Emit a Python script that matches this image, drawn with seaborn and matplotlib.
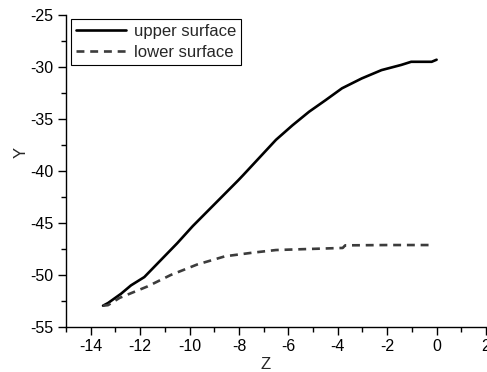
import matplotlib
matplotlib.use("Agg")
import matplotlib.pyplot as plt
import seaborn as sns
import pandas as pd
from matplotlib.ticker import MultipleLocator

sns.set_theme(style="ticks")
plt.rcParams['font.family'] = ['Liberation Sans', 'DejaVu Sans']

upper_z = [-13.5, -13.3, -12.77, -12.37, -12.1, -11.83, -10.5, -9.87, -8.03, -7.83,
           -6.5, -5.83, -5.16, -4.5, -3.83, -3.03, -2.23, -1.43, -1.03, -0.2, 0.0]
upper_y = [-52.95, -52.7, -51.8, -51.0, -50.6, -50.2, -46.95, -45.3, -40.9, -40.4,
           -37.0, -35.6, -34.3, -33.2, -32.05, -31.1, -30.3, -29.8, -29.5, -29.5, -29.3]

lower_z = [-13.5, -13.3, -12.83, -11.7, -10.76, -9.7, -8.56, -7.43, -6.5, -4.23, -3.8,
           -3.7, -2.0, -0.16]
lower_y = [-52.95, -52.9, -52.2, -51.1, -50.0, -49.0, -48.2, -47.85, -47.6, -47.43, -47.4,
           -47.15, -47.12, -47.12]

x_ticks = [-14, -12, -10, -8, -6, -4, -2, 0, 2]
y_ticks = [-55, -50, -45, -40, -35, -30, -25]

up = pd.DataFrame({"Z": upper_z, "Y": upper_y})
lo = pd.DataFrame({"Z": lower_z, "Y": lower_y})

fig = plt.figure(figsize=(4.87, 3.72), dpi=100)
ax = fig.add_axes([0.1355, 0.121, 0.8625, 0.8387])

sns.lineplot(data=up, x="Z", y="Y", sort=False, color="black", lw=1.9,
             label="upper surface", ax=ax)
sns.lineplot(data=lo, x="Z", y="Y", sort=False, color="#3c3c3c", lw=1.9,
             linestyle=(0, (3.0, 2.2)), label="lower surface", ax=ax)

ax.set_xlim(-15, 2)
ax.set_ylim(-55, -25)
ax.set_xticks(x_ticks)
ax.set_yticks(y_ticks)
ax.set_xticklabels([str(t) for t in x_ticks])
ax.set_yticklabels([str(t) for t in y_ticks])
ax.xaxis.set_minor_locator(MultipleLocator(1))
ax.yaxis.set_minor_locator(MultipleLocator(2.5))
ax.tick_params(which='major', direction='out', length=6, width=1, labelsize=11.5,
               colors='black', pad=3)
ax.tick_params(which='minor', direction='out', length=3.5, width=1, colors='black')
for s in ['top', 'right']:
    ax.spines[s].set_visible(False)
for s in ['left', 'bottom']:
    ax.spines[s].set_color('black')
    ax.spines[s].set_linewidth(1)
ax.set_xlabel("Z", fontsize=12)
ax.set_ylabel("Y", fontsize=12)
ax.xaxis.set_label_coords(0.474, -0.096)
ax.yaxis.set_label_coords(-0.088, 0.558)

leg = ax.legend(loc='upper left', bbox_to_anchor=(0.012, 0.988), fontsize=12,
                frameon=True, fancybox=False, framealpha=1, edgecolor='black',
                handlelength=3.0, handletextpad=0.45, borderpad=0.3,
                labelspacing=0.38, borderaxespad=0)
leg.get_frame().set_linewidth(0.8)

fig.savefig("out.png", dpi=100)
